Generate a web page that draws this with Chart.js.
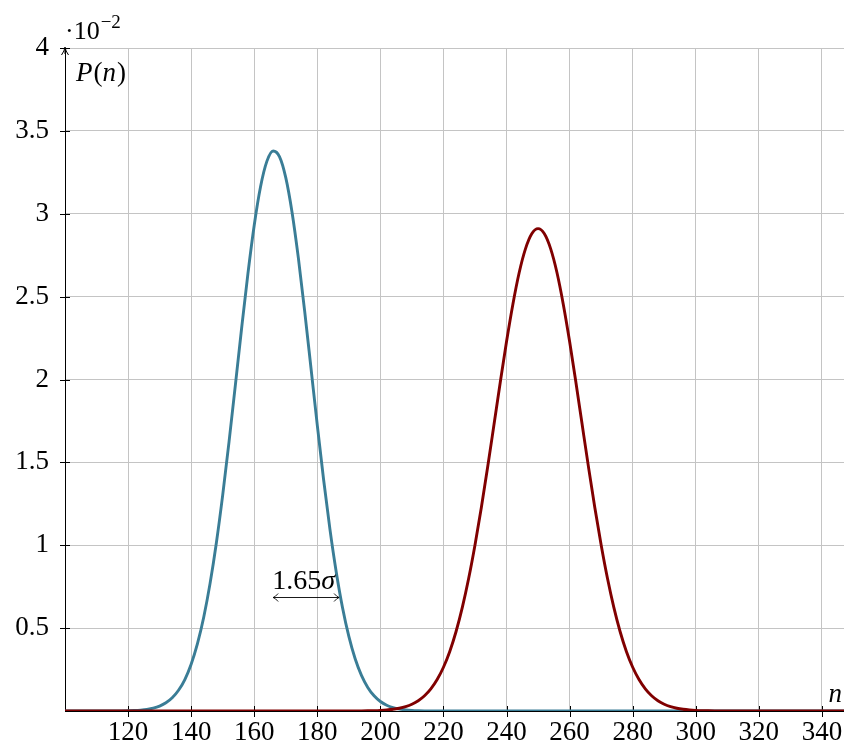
<!DOCTYPE html>
<html>
<head>
<meta charset="utf-8">
<script src="https://cdn.jsdelivr.net/npm/chart.js@4.4.1/dist/chart.umd.min.js"></script>
<style>
  html, body { margin: 0; padding: 0; background: #ffffff; }
  #wrap { width: 844px; height: 746px; }
</style>
</head>
<body>
<div id="wrap"><canvas id="c" width="844" height="746"></canvas></div>
<script>
// ---- data (P(n) in units of 10^-2) ----
const blueN = [100, 116, 118, 120, 122, 124, 126, 128, 130, 132, 134, 136, 138, 140, 142, 144, 146, 148, 150,
  152, 154, 156, 158, 160, 162, 164, 166, 168, 170, 172, 174, 176, 178, 180, 182, 184, 186, 188, 190,
  192, 194, 196, 198, 200, 202, 204, 206, 208, 210, 212, 214, 218, 347];
const blueP = [0, 0.0002, 0.0007, 0.0015, 0.0029, 0.0055, 0.0099, 0.0174, 0.0298, 0.0495, 0.0798, 0.125, 0.190, 0.282, 0.406, 0.567, 0.770, 1.015, 1.302,
  1.622, 1.963, 2.309, 2.639, 2.931, 3.163, 3.316, 3.379, 3.345, 3.218, 3.008, 2.732, 2.411, 2.068, 1.723, 1.395, 1.097, 0.839, 0.623, 0.450,
  0.3155, 0.215, 0.1424, 0.0916, 0.0573, 0.0348, 0.0205, 0.0118, 0.0066, 0.0036, 0.0019, 0.0010, 0.0002, 0];

const redN = [100, 190, 192, 194, 196, 198, 200, 202, 204, 206, 208, 210, 212, 214, 216, 218, 220, 222, 224, 226, 228, 230,
  232, 234, 236, 238, 240, 242, 244, 246, 248, 250, 252, 254, 256, 258, 260, 262, 264, 266, 268, 270,
  272, 274, 276, 278, 280, 282, 284, 286, 288, 290, 292, 294, 296, 298, 300, 302, 304, 306, 308, 310, 347];
const redP = [0, 0.0001, 0.0003, 0.0006, 0.0012, 0.0021, 0.0037, 0.0062, 0.0103, 0.0167, 0.0264, 0.0408, 0.0619, 0.0919, 0.1334, 0.1897, 0.2640, 0.3596, 0.4797, 0.6264, 0.8005, 1.0015,
  1.226, 1.470, 1.725, 1.982, 2.229, 2.453, 2.644, 2.788, 2.879, 2.910, 2.879, 2.788, 2.644, 2.453, 2.229, 1.982, 1.725, 1.470, 1.226, 1.0015,
  0.8005, 0.6264, 0.4797, 0.3596, 0.2640, 0.1897, 0.1334, 0.0919, 0.0619, 0.0408, 0.0264, 0.0167, 0.0103, 0.0062, 0.0037, 0.0021, 0.0012, 0.0006, 0.0003, 0.0001, 0];

const xTicks = [120, 140, 160, 180, 200, 220, 240, 260, 280, 300, 320, 340];
const yTicks = [0.5, 1, 1.5, 2, 2.5, 3, 3.5, 4];

// annotation (data coordinates)
const sigmaArrowFrom = 166.0;
const sigmaArrowTo = 186.9;
const sigmaArrowY = 0.69;
const sigmaText = ['1.65', 'σ'];

const FONT = "'Liberation Serif', 'DejaVu Serif', serif";
const BLUE = '#3a7d96';
const RED = '#800000';

function pts(xs, ys) { return xs.map((x, i) => ({ x: x, y: ys[i] })); }

const annot = {
  id: 'annot',
  beforeDatasetsDraw(chart) {
    const ctx = chart.ctx, xs = chart.scales.x, ys = chart.scales.y, a = chart.chartArea;
    ctx.save();
    ctx.strokeStyle = '#000';
    ctx.lineWidth = 1;
    yTicks.forEach(v => {
      const y = Math.round(ys.getPixelForValue(v)) + 0.5;
      ctx.beginPath(); ctx.moveTo(a.left - 5, y); ctx.lineTo(a.left + 5, y); ctx.stroke();
    });
    xTicks.forEach(v => {
      const x = Math.round(xs.getPixelForValue(v)) + 0.5;
      ctx.beginPath(); ctx.moveTo(x, a.bottom - 5); ctx.lineTo(x, a.bottom + 6); ctx.stroke();
    });
    const ax = a.left;
    ctx.beginPath();
    ctx.moveTo(ax - 3.5, a.top + 7); ctx.quadraticCurveTo(ax - 0.5, a.top + 3, ax, a.top - 1);
    ctx.quadraticCurveTo(ax + 0.5, a.top + 3, ax + 3.5, a.top + 7);
    ctx.stroke();
    ctx.beginPath(); ctx.moveTo(ax, a.top); ctx.lineTo(ax, a.top + 6); ctx.stroke();
    ctx.restore();
  },
  afterDraw(chart) {
    const ctx = chart.ctx, xs = chart.scales.x, ys = chart.scales.y, a = chart.chartArea;
    ctx.save();
    ctx.fillStyle = '#000';
    ctx.textBaseline = 'alphabetic';
    ctx.textAlign = 'left';
    // ·10^-2
    ctx.font = '26px ' + FONT;
    let x = a.left;
    ctx.fillText('·10', x, 39);
    x += ctx.measureText('·10').width + 1;
    ctx.font = '19px ' + FONT;
    ctx.fillText('−2', x, 28);
    // P(n)
    x = a.left + 11;
    const yb = 81;
    const parts = [['P', true], ['(', false], ['n', true], [')', false]];
    parts.forEach(p => {
      ctx.font = (p[1] ? 'italic ' : '') + '27px ' + FONT;
      ctx.fillText(p[0], x, yb);
      x += ctx.measureText(p[0]).width + (p[1] ? 1 : 0);
    });
    // n label at end of x axis
    ctx.font = 'italic 27px ' + FONT;
    ctx.textAlign = 'right';
    ctx.fillText('n', a.right - 2, a.bottom - 9);
    ctx.textAlign = 'left';
    // sigma annotation
    const x0 = xs.getPixelForValue(sigmaArrowFrom);
    const x1 = xs.getPixelForValue(sigmaArrowTo);
    const yy = Math.round(ys.getPixelForValue(sigmaArrowY)) + 0.5;
    ctx.font = '28px ' + FONT;
    ctx.fillText(sigmaText[0], x0 - 1, yy - 9);
    const w = ctx.measureText(sigmaText[0]).width;
    ctx.font = 'italic 28px ' + FONT;
    ctx.fillText(sigmaText[1], x0 - 1 + w, yy - 9);
    ctx.strokeStyle = '#000';
    ctx.lineWidth = 0.9;
    ctx.beginPath(); ctx.moveTo(x0, yy); ctx.lineTo(x1, yy); ctx.stroke();
    ctx.beginPath();
    ctx.moveTo(x0 + 5, yy - 4); ctx.quadraticCurveTo(x0 + 2, yy - 0.5, x0, yy);
    ctx.quadraticCurveTo(x0 + 2, yy + 0.5, x0 + 5, yy + 4);
    ctx.moveTo(x1 - 5, yy - 4); ctx.quadraticCurveTo(x1 - 2, yy - 0.5, x1, yy);
    ctx.quadraticCurveTo(x1 - 2, yy + 0.5, x1 - 5, yy + 4);
    ctx.stroke();
    ctx.restore();
  }
};

new Chart(document.getElementById('c'), {
  type: 'line',
  data: {
    datasets: [
      { data: pts(redN, redP), borderColor: RED, borderWidth: 2.9, pointRadius: 0, fill: false,
        cubicInterpolationMode: 'monotone' },
      { data: pts(blueN, blueP), borderColor: BLUE, borderWidth: 2.9, pointRadius: 0, fill: false,
        cubicInterpolationMode: 'monotone' }
    ]
  },
  options: {
    responsive: false,
    animation: false,
    devicePixelRatio: 1,
    layout: { autoPadding: false, padding: { top: 48, right: 0, left: 0, bottom: 0 } },
    plugins: { legend: { display: false }, tooltip: { enabled: false } },
    scales: {
      x: {
        type: 'linear', min: 100, max: 347,
        afterBuildTicks: s => { s.ticks = xTicks.map(v => ({ value: v })); },
        afterFit: s => { s.height = 35; s.paddingLeft = 0; s.paddingRight = 0; },
        grid: { color: '#c4c4c4', lineWidth: 1, drawTicks: false },
        border: { color: '#000', width: 1 },
        ticks: { color: '#000', font: { family: FONT, size: 27 }, padding: 6, maxRotation: 0,
          callback: v => String(v) }
      },
      y: {
        type: 'linear', min: 0, max: 4,
        afterBuildTicks: s => { s.ticks = yTicks.map(v => ({ value: v })); },
        afterFit: s => { s.width = 65; s.paddingTop = 0; s.paddingBottom = 0; },
        grid: { color: '#c4c4c4', lineWidth: 1, drawTicks: false },
        border: { color: '#000', width: 1 },
        ticks: { color: '#000', font: { family: FONT, size: 27 }, padding: 16,
          callback: v => String(v) }
      }
    }
  },
  plugins: [annot]
});
</script>
</body>
</html>
